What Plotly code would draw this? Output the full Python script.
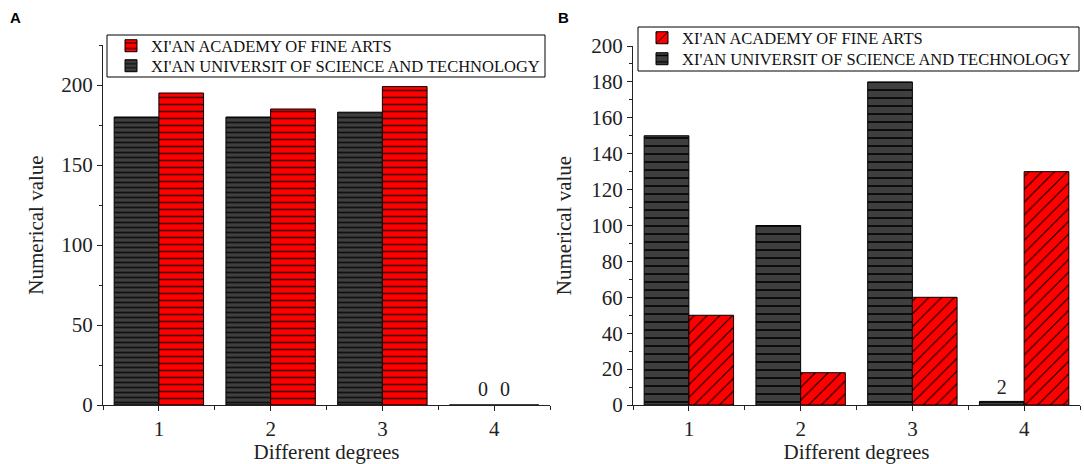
import plotly.graph_objects as go

# ---- data ----
degrees = [1, 2, 3, 4]
tick_labels = ["1", "2", "3", "4"]
series_fine_arts = "XI'AN ACADEMY OF FINE ARTS"
series_sci_tech = "XI'AN UNIVERSIT OF SCIENCE AND TECHNOLOGY"

a_sci_tech = [180, 180, 183, 0]
a_fine_arts = [195, 185, 199, 0]
a_sci_tech_text = ["", "", "", "0"]
a_fine_arts_text = ["", "", "", "0"]

b_sci_tech = [150, 100, 180, 2]
b_fine_arts = [50, 18, 60, 130]
b_sci_tech_text = ["", "", "", "2"]
b_fine_arts_text = ["", "", "", ""]

a_yticks = [0, 50, 100, 150, 200]
b_yticks = [0, 20, 40, 60, 80, 100, 120, 140, 160, 180, 200]

# ---- styles ----
W, H = 1084, 464
SERIF = "Liberation Serif, Times New Roman, serif"
GRAY = "#3f3f3f"
RED = "#ff0000"
INK = "#222222"

def px_x(v):
    return v / W

def px_y(v):
    return 1 - v / H

fig = go.Figure()

def bar(x, y, text, name, xa, ya, legend, color, shape, fg, size, solidity):
    return go.Bar(
        x=x, y=y, name=name, xaxis=xa, yaxis=ya, legend=legend,
        text=text, textposition="outside", cliponaxis=False,
        textfont=dict(family=SERIF, size=20, color=INK),
        marker=dict(color=color, line=dict(color="#000000", width=1),
                    pattern=dict(shape=shape, fgcolor=fg, bgcolor=color,
                                 size=size, solidity=solidity, fillmode="replace")),
        showlegend=True,
    )

# Panel A (value labels of panel A drawn as annotations below)
fig.add_trace(bar(degrees, a_sci_tech, None, series_sci_tech, "x", "y", "legend3",
                  GRAY, "-", "#111111", 5, 0.35))
fig.add_trace(bar(degrees, a_fine_arts, None, series_fine_arts, "x", "y", "legend",
                  RED, "-", "#3a0000", 7, 0.22))
# Panel B
fig.add_trace(bar(degrees, b_sci_tech, b_sci_tech_text, series_sci_tech, "x2", "y2", "legend4",
                  GRAY, "-", "#000000", 8, 0.2))
fig.add_trace(bar(degrees, b_fine_arts, b_fine_arts_text, series_fine_arts, "x2", "y2", "legend2",
                  RED, "/", "#000000", 9, 0.12))

axis_common = dict(
    showline=True, linecolor=INK, linewidth=1, showgrid=False, zeroline=False,
    ticks="outside", ticklen=5, tickwidth=1, tickcolor=INK,
    tickfont=dict(family=SERIF, size=21, color=INK),
)
xminor = dict(tickmode="array", tickvals=[0.5, 1.5, 2.5, 3.5, 4.5], ticks="outside",
              ticklen=4, tickcolor=INK)
title_font = dict(family=SERIF, size=21, color=INK)

def legend_at(x, y):
    return dict(x=px_x(x), y=px_y(y), xanchor="left", yanchor="middle",
                bgcolor="rgba(0,0,0,0)", borderwidth=0, visible=True,
                font=dict(family=SERIF, size=16.5, color="#111111"))

annotations = [
    dict(text="<b>A</b>", x=px_x(15), y=px_y(17), xref="paper", yref="paper",
         xanchor="center", yanchor="middle", showarrow=False,
         font=dict(family="Liberation Sans, Arial, sans-serif", size=15, color="#000000")),
    dict(text="<b>B</b>", x=px_x(563), y=px_y(17), xref="paper", yref="paper",
         xanchor="center", yanchor="middle", showarrow=False,
         font=dict(family="Liberation Sans, Arial, sans-serif", size=15, color="#000000")),
]
# value labels for panel A (sit slightly inward over the two zero-height bars)
for vals, texts, shift in [(a_sci_tech, a_sci_tech_text, -11), (a_fine_arts, a_fine_arts_text, 11)]:
    for xv, yv, t in zip(degrees, vals, texts):
        if t:
            annotations.append(dict(text=t, x=xv, y=yv, xref="x", yref="y",
                                    xshift=shift, yshift=3, xanchor="center", yanchor="bottom",
                                    showarrow=False, font=dict(family=SERIF, size=20, color=INK)))

fig.update_layout(
    width=W, height=H, autosize=False, showlegend=True,
    margin=dict(l=0, r=0, t=0, b=0),
    paper_bgcolor="white", plot_bgcolor="white",
    barmode="group", bargap=0.2, bargroupgap=0,
    xaxis=dict(domain=[px_x(103), px_x(550)], anchor="y", range=[0.5, 4.5],
               tickmode="array", tickvals=degrees, ticktext=tick_labels, minor=xminor,
               title=dict(text="Different degrees", font=title_font, standoff=5),
               **axis_common),
    yaxis=dict(domain=[px_y(405), px_y(45)], anchor="x", range=[0, 225],
               tickmode="array", tickvals=a_yticks,
               minor=dict(dtick=25, tick0=0, ticks="outside", ticklen=3, tickcolor=INK),
               title=dict(text="Numerical value", font=title_font, standoff=11),
               **axis_common),
    xaxis2=dict(domain=[px_x(633), px_x(1080)], anchor="y2", range=[0.5, 4.5],
                tickmode="array", tickvals=degrees, ticktext=tick_labels, minor=xminor,
                title=dict(text="Different degrees", font=title_font, standoff=5),
                **axis_common),
    yaxis2=dict(domain=[px_y(405), px_y(46)], anchor="x2", range=[0, 200],
                tickmode="array", tickvals=b_yticks,
                minor=dict(dtick=10, tick0=0, ticks="outside", ticklen=3, tickcolor=INK),
                title=dict(text="Numerical value", font=title_font, standoff=13),
                **axis_common),
    legend=legend_at(111, 46),
    legend3=legend_at(111, 66),
    legend2=legend_at(642, 38),
    legend4=legend_at(642, 59),
    shapes=[
        dict(type="rect", xref="paper", yref="paper", layer="above",
             x0=px_x(107), x1=px_x(545), y0=px_y(77), y1=px_y(35),
             fillcolor="white", line=dict(color="#000000", width=1)),
        dict(type="rect", xref="paper", yref="paper", layer="above",
             x0=px_x(638), x1=px_x(1079), y0=px_y(71), y1=px_y(27),
             fillcolor="white", line=dict(color="#000000", width=1)),
    ],
    annotations=annotations,
)
for ax in ["xaxis", "yaxis", "xaxis2", "yaxis2"]:
    fig.layout[ax].automargin = False

fig.write_html("out.html", config={"displayModeBar": False},
               post_script="document.body.style.margin='0px';document.body.style.overflow='hidden';")
